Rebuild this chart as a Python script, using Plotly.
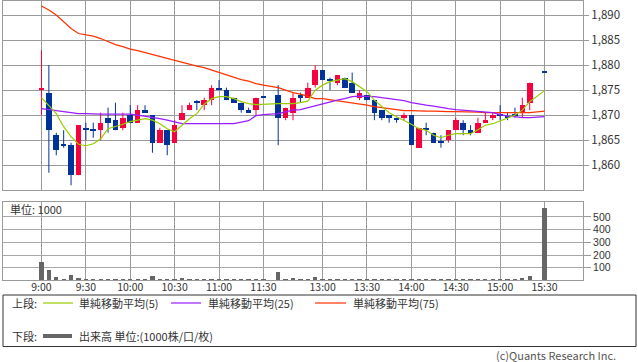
import plotly.graph_objects as go

# ---------------- data (5-minute candles, slot index 0..68; None = no trade slot) ----------------
tick_labels = ["9:00", "9:30", "10:00", "10:30", "11:00", "11:30",
               "13:00", "13:30", "14:00", "14:30", "15:00", "15:30"]
tick_slots = [0, 6, 12, 18, 24, 30, 38, 44, 50, 56, 62, 68]

open_ = [1875, 1874.5, 1866, 1864, 1864, 1858, 1867.5, 1867, 1867, 1869.5,
         1869, 1867.5, 1870, 1868.5, 1871, 1870, 1864.5, 1867, 1864.5, 1869,
         1871, 1872.5, 1872, 1873, 1875.5, 1875, 1873.5, 1872.5, 1871, 1871,
         1873.5, None, 1874, 1869.5, 1870.5, 1874, 1873.5, 1876, 1879, 1877,
         1876.5, 1877.5, 1876.5, 1873.5, 1874, 1873, 1871, 1870, 1869.5, 1869.5,
         1870, 1863.5, 1867.5, 1866.5, 1864.5, 1865, 1867, 1868.5, 1867, 1866.5,
         1868.5, 1869.5, 1870, 1869.5, 1870, 1870.5, 1872.5, None, 1878.5]
high = [1883, 1880, 1866.5, 1867, 1864.5, 1868, 1868.5, 1868.5, 1870.5, 1871.5,
        1872.5, 1870.5, 1872, 1872, 1872, 1870, 1867.5, 1867, 1869, 1872,
        1872.5, 1873, 1873.5, 1876, 1877, 1875.5, 1873.5, 1872.5, 1871.5, 1873.5,
        1873.5, None, 1876, 1871.5, 1874.5, 1874.5, 1876.5, 1880, 1879, 1877.5,
        1878, 1877.5, 1878.5, 1875, 1874, 1873, 1871, 1870, 1869.5, 1870.5,
        1870, 1867.5, 1868.5, 1866.5, 1866, 1867, 1869.5, 1869, 1868, 1869.5,
        1870.5, 1870.5, 1872, 1870.5, 1871.5, 1873.5, 1876.5, None, 1878.5]
low = [1870, 1858.5, 1862, 1863.5, 1856, 1858, 1865, 1865.5, 1865, 1866.5,
       1867, 1867, 1868.5, 1868.5, 1870.5, 1862.5, 1864.5, 1862, 1864.5, 1869,
       1871, 1871, 1871, 1872, 1875, 1873, 1872.5, 1870.5, 1870.5, 1870,
       1873.5, None, 1864, 1869, 1869, 1872.5, 1873.5, 1875.5, 1877, 1875,
       1876, 1875.5, 1874.5, 1873, 1873, 1869, 1869, 1868.5, 1868.5, 1869,
       1864, 1863.5, 1866, 1864.5, 1863.5, 1864.5, 1867, 1866, 1866, 1866.5,
       1868.5, 1869, 1869, 1869, 1869.5, 1869.5, 1871, None, 1878.5]
close = [1875.5, 1867, 1863, 1864, 1858, 1868, 1867, 1867, 1868.5, 1868.5,
         1867, 1869.5, 1868.5, 1871, 1870.5, 1864.5, 1867, 1864, 1868, 1870.5,
         1872, 1872.5, 1873, 1875.5, 1875, 1873, 1872.5, 1871, 1870.5, 1873.5,
         1873.5, None, 1869.5, 1871.5, 1873.5, 1873.5, 1875.5, 1879, 1877, 1877,
         1878, 1875.5, 1874.5, 1874.5, 1873, 1870.5, 1869.5, 1869.5, 1869, 1870,
         1864, 1867.5, 1867, 1864.5, 1864.5, 1867, 1869, 1867, 1866.5, 1868.5,
         1869, 1870, 1870, 1869.5, 1870, 1872, 1876.5, None, 1878.5]

sma5 = [1873.5, 1872, 1870.3, 1867.7, 1865.7, 1864.2, 1863.9, 1864.3, 1865.3, 1867.3,
        1867.7, 1868.2, 1868.7, 1869, 1869.3, 1869, 1868.3, 1867.3, 1866.7, 1868,
        1869.3, 1870.3, 1872.2, 1873.3, 1873.7, 1873.7, 1873.3, 1872.7, 1872.3, 1872.1,
        1872.2, None, 1872.3, 1872.3, 1872.3, 1872.5, 1872.8, 1875, 1876, 1876.7,
        1877, 1877.3, 1876.7, 1875.7, 1874.7, 1873, 1871.7, 1870.5, 1869.7, 1869,
        1868.2, 1867.3, 1867, 1866, 1865.5, 1866, 1866.3, 1866.3, 1866.3, 1867.1,
        1868, 1868.3, 1868.9, 1869.5, 1870, 1871, 1872.7, None, 1874.9]
sma25 = [1871.3, 1871.1, 1871, 1870.7, 1870.5, 1870.3, 1870.3, 1870.2, 1870.2, 1870.2,
         1870.2, 1870.2, 1870.2, 1870, 1869.8, 1869.5, 1869.3, 1869, 1868.6, 1868.3,
         1868.3, 1868.3, 1868.3, 1868.3, 1868.3, 1868.3, 1868.3, 1868.6, 1868.9, 1869.9,
         1870.1, None, 1870.3, 1870.7, 1871, 1871.1, 1871.5, 1871.8, 1872.3, 1872.7,
         1873, 1873.3, 1873.7, 1873.8, 1873.8, 1873.7, 1873.5, 1873.3, 1873.1, 1872.9,
         1872.5, 1872.2, 1872, 1871.8, 1871.5, 1871.3, 1871.1, 1871, 1870.8, 1870.7,
         1870.7, 1870.5, 1870.1, 1869.8, 1869.7, 1869.5, 1869.5, None, 1869.7]
sma75 = [1891.8, 1891, 1890, 1888.7, 1887.3, 1886.3, 1886.1, 1885.8, 1885.3, 1884.7,
         1884.1, 1883.7, 1883.2, 1882.9, 1882.5, 1882.1, 1881.7, 1881.3, 1880.9, 1880.5,
         1880.2, 1879.8, 1879.5, 1879, 1878.5, 1878, 1877.5, 1877.1, 1876.8, 1876.3,
         1876, None, 1875.5, 1875, 1874.5, 1874.2, 1873.8, 1873.3, 1873.3, 1873.1,
         1872.9, 1872.7, 1872.5, 1872.2, 1872, 1871.7, 1871.5, 1871.2, 1871, 1870.9,
         1870.9, 1870.8, 1870.8, 1870.8, 1870.7, 1870.7, 1870.7, 1870.7, 1870.6, 1870.6,
         1870.5, 1870.5, 1870.5, 1870.5, 1870.5, 1870.5, 1870.5, None, 1870.8]

volume = [150, 84, 30, 16, 44, 22, 12, 12, 12, 12,
          12, 8, 12, 12, 12, 35, 18, 12, 8, 22,
          12, 12, 12, 12, 12, 8, 8, 12, 8, 12,
          8, None, 70, 8, 22, 12, 12, 30, 8, 12,
          12, 18, 12, 12, 8, 12, 8, 12, 8, 8,
          18, 12, 12, 12, 8, 12, 12, 12, 12, 12,
          12, 12, 18, 12, 12, 22, 36, None, 578]

price_ticks = [1860, 1865, 1870, 1875, 1880, 1885, 1890]
vol_ticks = [100, 200, 300, 400, 500]

# ---------------- styling ----------------
W, H = 638, 362
ML, MR, MT, MB = 3, 55, 1, 0
UP, DOWN = "#f7003f", "#003399"
GRID = "#9a9a9a"
FONT = "Noto Sans CJK JP"
TXT = "#333333"


def px2x(px):
    return (px - ML) / (W - ML - MR)


def px2y(py):
    return (H - MB - py) / (H - MT - MB)


slots = list(range(len(close)))
valid = [i for i in slots if close[i] is not None]

fig = go.Figure()

# wicks
for col, cond in ((UP, True), (DOWN, False)):
    xs, ys = [], []
    for i in valid:
        if (close[i] > open_[i]) == cond:
            xs += [i, i, None]
            ys += [low[i], high[i], None]
    fig.add_trace(go.Scatter(x=xs, y=ys, mode="lines", line=dict(color=col, width=1),
                             hoverinfo="skip", xaxis="x", yaxis="y"))

# bodies
fig.add_trace(go.Bar(
    x=valid,
    base=[min(open_[i], close[i]) for i in valid],
    y=[max(abs(close[i] - open_[i]), 0.22) for i in valid],
    width=0.76,
    marker=dict(color=[UP if close[i] > open_[i] else DOWN for i in valid], line=dict(width=0)),
    xaxis="x", yaxis="y"))

# moving averages
for vals, col in ((sma75, "#ff3300"), (sma25, "#9b1cff"), (sma5, "#99cc00")):
    fig.add_trace(go.Scatter(x=slots, y=vals, mode="lines", connectgaps=True,
                             line=dict(color=col, width=1.2), xaxis="x", yaxis="y"))

# volume
fig.add_trace(go.Bar(x=slots, y=volume, width=0.58, marker=dict(color="#666666", line=dict(width=0)),
                     xaxis="x2", yaxis="y2"))

xr = [-5.2, 73.2]
common_x = dict(range=xr, tickmode="array", tickvals=tick_slots, showgrid=True, gridcolor=GRID,
                gridwidth=1, showline=True, linecolor=GRID, linewidth=1, mirror=True,
                zeroline=False, fixedrange=True)
fig.update_layout(
    width=W, height=H,
    margin=dict(l=ML, r=MR, t=MT, b=MB),
    paper_bgcolor="white", plot_bgcolor="white",
    showlegend=False, bargap=0,
    font=dict(family=FONT, size=11, color=TXT),
    xaxis=dict(domain=[0, 1], anchor="y", showticklabels=False, ticks="", **common_x),
    yaxis=dict(domain=[px2y(190.3), 1], anchor="x", range=[1855, 1892.8], side="right",
               tickmode="array", tickvals=price_ticks, tickformat=",d", ticks="outside",
               ticklen=5, tickcolor=GRID, showgrid=True, gridcolor=GRID, showline=True,
               linecolor=GRID, mirror=True, zeroline=False,
               tickfont=dict(family=FONT, size=11.5, color=TXT)),
    xaxis2=dict(domain=[0, 1], anchor="y2", ticktext=tick_labels, ticks="",
                ticklabelstandoff=-3,
                tickfont=dict(family=FONT, size=10.5, color=TXT), **common_x),
    yaxis2=dict(domain=[px2y(280.4), px2y(201.5)], anchor="x2", range=[0, 622], side="right",
                tickmode="array", tickvals=vol_ticks, ticks="outside", ticklen=7,
                tickcolor=GRID, showgrid=True, gridcolor="#a8a8a8", showline=True,
                linecolor=GRID, mirror=True, zeroline=False,
                tickfont=dict(family="Liberation Sans", size=10.5, color=TXT)),
)

shapes = [
    dict(type="rect", xref="paper", yref="paper", x0=px2x(3), x1=px2x(636), y0=px2y(346.5),
         y1=px2y(295), line=dict(color="#333333", width=1)),
]
legend_lines = [(43, 73, 303, "#99cc00", 1.2), (171, 201, 303, "#9b1cff", 1.2),
                (315, 346, 303, "#ff3300", 1.2), (43, 72, 336, "#666666", 4)]
for x0, x1, yy, col, wd in legend_lines:
    shapes.append(dict(type="line", xref="paper", yref="paper", x0=px2x(x0), x1=px2x(x1),
                       y0=px2y(yy), y1=px2y(yy), line=dict(color=col, width=wd)))
fig.update_layout(shapes=shapes)

texts = [("上段:", 10, 303), ("単純移動平均(5)", 77, 303), ("単純移動平均(25)", 206, 303),
         ("単純移動平均(75)", 351, 303), ("下段:", 10, 336), ("出来高 単位:(1000株/口/枚)", 77, 336),
         ("単位: 1000", 8, 209)]
anns = []
for t, xx, yy in texts:
    anns.append(dict(text=t, xref="paper", yref="paper", x=px2x(xx), y=px2y(yy),
                     xanchor="left", yanchor="middle", showarrow=False,
                     font=dict(family=FONT, size=11, color=TXT)))
anns.append(dict(text="(c)Quants Research Inc.", xref="paper", yref="paper", x=px2x(618),
                 y=px2y(355), xanchor="right", yanchor="middle", showarrow=False,
                 font=dict(family=FONT, size=11, color="#555555")))
fig.update_layout(annotations=anns)

fig.write_html("out.html", config={"displayModeBar": False},
               post_script="document.body.style.margin='0';document.body.style.padding='0';")
